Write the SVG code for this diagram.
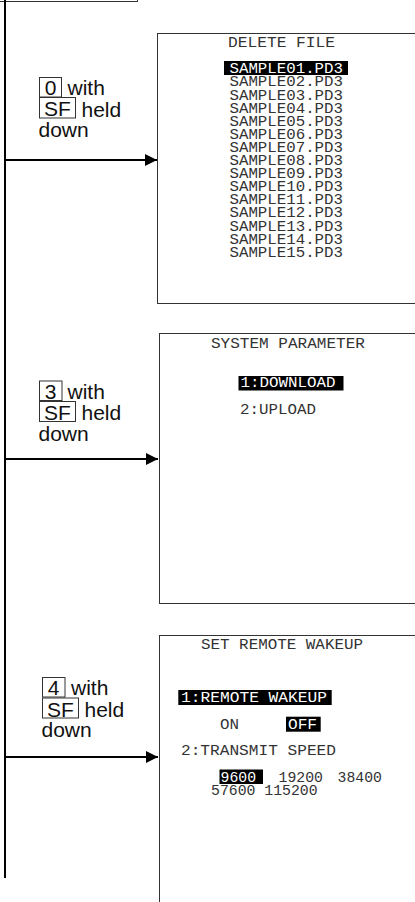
<svg xmlns="http://www.w3.org/2000/svg" width="415" height="902" viewBox="0 0 415 902">
<style>
.box{fill:#fff;stroke:#333;stroke-width:1}
.key{fill:none;stroke:#333;stroke-width:1}
.lbl{font-family:"Liberation Sans",Arial,sans-serif;font-size:21px;fill:#111}
.mono{font-family:"Liberation Mono","Courier New",monospace;font-size:14.8px;fill:#333}
.inv{fill:#fff}
.hl{fill:#000}
.conn{stroke:#000;stroke-width:2;fill:none}
</style>
<defs>
<marker id="ah" markerWidth="12" markerHeight="12" refX="12" refY="6" orient="auto" markerUnits="userSpaceOnUse">
<path d="M0,0 L12,6 L0,12 Z" fill="#000"/>
</marker>
</defs>

<g id="top-node">
<rect class="box" x="-10" y="-20" width="147.5" height="21.5"/>
</g>

<g id="connectors">
<line class="conn" x1="5" y1="0" x2="5" y2="878"/>
<line class="conn" x1="5" y1="160" x2="157" y2="160" marker-end="url(#ah)"/>
<line class="conn" x1="5" y1="459" x2="158" y2="459" marker-end="url(#ah)"/>
<line class="conn" x1="5" y1="757" x2="158" y2="757" marker-end="url(#ah)"/>
</g>

<g id="label-0">
<rect class="key" x="39.5" y="77.5" width="22" height="19.5"/>
<text class="lbl" x="50.5" y="95" text-anchor="middle">0</text>
<text class="lbl" x="67.5" y="95">with</text>
<rect class="key" x="39.5" y="97.5" width="36" height="20.5"/>
<text class="lbl" x="57.5" y="116" text-anchor="middle">SF</text>
<text class="lbl" x="81.5" y="116.5">held</text>
<text class="lbl" x="38.5" y="137">down</text>
</g>

<g id="label-3">
<rect class="key" x="39.5" y="381" width="22.5" height="19.5"/>
<text class="lbl" x="50.5" y="398.5" text-anchor="middle">3</text>
<text class="lbl" x="67.5" y="399">with</text>
<rect class="key" x="39.5" y="401.5" width="36" height="20"/>
<text class="lbl" x="57.5" y="420" text-anchor="middle">SF</text>
<text class="lbl" x="81.5" y="420">held</text>
<text class="lbl" x="38.5" y="441">down</text>
</g>

<g id="label-4">
<rect class="key" x="42.5" y="677.5" width="22.5" height="19.5"/>
<text class="lbl" x="53.5" y="695" text-anchor="middle">4</text>
<text class="lbl" x="71" y="695">with</text>
<rect class="key" x="42.5" y="698" width="36" height="20"/>
<text class="lbl" x="60.5" y="716.5" text-anchor="middle">SF</text>
<text class="lbl" x="84.5" y="716.5">held</text>
<text class="lbl" x="41.5" y="737">down</text>
</g>

<g id="screen-delete-file">
<rect class="box" x="157.5" y="33.5" width="270" height="270"/>
<text class="mono" x="228" y="46.5" textLength="107" lengthAdjust="spacingAndGlyphs">DELETE FILE</text>
<rect class="hl" x="224" y="61" width="124" height="14"/>
<text class="mono inv" x="229.5" y="73.3" textLength="113.5" lengthAdjust="spacingAndGlyphs">SAMPLE01.PD3</text>
<text class="mono" x="229.5" y="86.4" textLength="113.5" lengthAdjust="spacingAndGlyphs">SAMPLE02.PD3</text>
<text class="mono" x="229.5" y="99.5" textLength="113.5" lengthAdjust="spacingAndGlyphs">SAMPLE03.PD3</text>
<text class="mono" x="229.5" y="112.6" textLength="113.5" lengthAdjust="spacingAndGlyphs">SAMPLE04.PD3</text>
<text class="mono" x="229.5" y="125.7" textLength="113.5" lengthAdjust="spacingAndGlyphs">SAMPLE05.PD3</text>
<text class="mono" x="229.5" y="138.8" textLength="113.5" lengthAdjust="spacingAndGlyphs">SAMPLE06.PD3</text>
<text class="mono" x="229.5" y="151.9" textLength="113.5" lengthAdjust="spacingAndGlyphs">SAMPLE07.PD3</text>
<text class="mono" x="229.5" y="165" textLength="113.5" lengthAdjust="spacingAndGlyphs">SAMPLE08.PD3</text>
<text class="mono" x="229.5" y="178.1" textLength="113.5" lengthAdjust="spacingAndGlyphs">SAMPLE09.PD3</text>
<text class="mono" x="229.5" y="191.2" textLength="113.5" lengthAdjust="spacingAndGlyphs">SAMPLE10.PD3</text>
<text class="mono" x="229.5" y="204.3" textLength="113.5" lengthAdjust="spacingAndGlyphs">SAMPLE11.PD3</text>
<text class="mono" x="229.5" y="217.4" textLength="113.5" lengthAdjust="spacingAndGlyphs">SAMPLE12.PD3</text>
<text class="mono" x="229.5" y="230.5" textLength="113.5" lengthAdjust="spacingAndGlyphs">SAMPLE13.PD3</text>
<text class="mono" x="229.5" y="243.6" textLength="113.5" lengthAdjust="spacingAndGlyphs">SAMPLE14.PD3</text>
<text class="mono" x="229.5" y="256.7" textLength="113.5" lengthAdjust="spacingAndGlyphs">SAMPLE15.PD3</text>
</g>

<g id="screen-system-parameter">
<rect class="box" x="159.5" y="333.5" width="270" height="270"/>
<text class="mono" x="211" y="348.3" textLength="154" lengthAdjust="spacingAndGlyphs">SYSTEM PARAMETER</text>
<rect class="hl" x="238.5" y="376" width="105" height="14.5"/>
<text class="mono inv" x="240.5" y="386.7" textLength="95" lengthAdjust="spacingAndGlyphs">1:DOWNLOAD</text>
<text class="mono" x="240" y="414" textLength="76" lengthAdjust="spacingAndGlyphs">2:UPLOAD</text>
</g>

<g id="screen-set-remote-wakeup">
<rect class="box" x="159.5" y="635.5" width="270" height="290"/>
<text class="mono" x="201" y="649.3" textLength="162" lengthAdjust="spacingAndGlyphs">SET REMOTE WAKEUP</text>
<rect class="hl" x="178.3" y="690" width="153.4" height="15"/>
<text class="mono inv" x="181" y="701.7" textLength="146" lengthAdjust="spacingAndGlyphs">1:REMOTE WAKEUP</text>
<text class="mono" x="220" y="729" textLength="19" lengthAdjust="spacingAndGlyphs">ON</text>
<rect class="hl" x="286" y="716.7" width="34.7" height="15"/>
<text class="mono inv" x="288" y="729" textLength="29" lengthAdjust="spacingAndGlyphs">OFF</text>
<text class="mono" x="181" y="755" textLength="155" lengthAdjust="spacingAndGlyphs">2:TRANSMIT SPEED</text>
<rect class="hl" x="219.5" y="769.5" width="43.5" height="14.5"/>
<text class="mono" x="220.5" y="782" font-size="15.8"><tspan class="inv">9600</tspan><tspan x="278.5">19200</tspan><tspan x="337.5">38400</tspan></text>
<text class="mono" x="211" y="795" font-size="15.8">57600 115200</text>
</g>
</svg>
